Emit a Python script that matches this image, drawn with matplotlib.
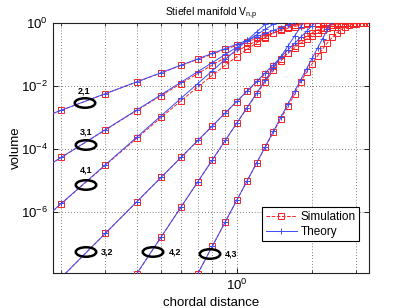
import matplotlib
matplotlib.use('Agg')
import matplotlib.pyplot as plt
from matplotlib.patches import Ellipse
from matplotlib.ticker import FixedLocator, NullLocator, NullFormatter

plt.rcParams['font.family'] = ['Liberation Sans', 'DejaVu Sans']
plt.rcParams['mathtext.fontset'] = 'custom'
plt.rcParams['mathtext.rm'] = 'Liberation Sans'
plt.rcParams['mathtext.it'] = 'Liberation Sans:italic'
plt.rcParams['mathtext.bf'] = 'Liberation Sans:bold'

# chordal distance grid (0.1 .. 3.4)
dist = [0.1, 0.2, 0.3, 0.4, 0.5, 0.6, 0.7, 0.8, 0.9, 1.0,
        1.1, 1.2, 1.3, 1.4, 1.5, 1.6, 1.7, 1.8, 1.9, 2.0,
        2.1, 2.2, 2.3, 2.4, 2.5, 2.6, 2.7, 2.8, 2.9, 3.0,
        3.1, 3.2, 3.3, 3.4]

labels = ["2,1", "3,1", "4,1", "3,2", "4,2", "4,3"]
start_idx = [0, 0, 0, 1, 3, 6]   # index into dist of the first point of each curve

sim_21 = [2.12e-4, 1.692e-3, 5.69e-3, 1.342e-2, 2.604e-2, 4.498e-2, 7.00e-2, 0.1033, 0.1449, 0.1955,
          0.2552, 0.3241, 0.4017, 0.4873, 0.5794, 0.6759, 0.7736, 0.8678, 0.950, 1.0,
          1.0, 1.0, 1.0, 1.0, 1.0, 1.0, 1.0, 1.0, 1.0, 1.0, 1.0, 1.0, 1.0, 1.0]
th_21 = [2.12e-4, 1.70e-3, 5.73e-3, 1.358e-2, 2.653e-2, 4.584e-2, 7.278e-2, 0.1086, 0.1547, 0.2122,
         0.2824, 0.3667, 0.4662, 0.5823, 0.7162, 0.8692, 1.0426, 1.2375]

sim_31 = [1.693e-6, 5.376e-5, 4.03e-4, 1.664e-3, 4.969e-3, 1.195e-2, 2.488e-2, 4.639e-2, 7.937e-2, 0.1266,
          0.1902, 0.2715, 0.370, 0.4830, 0.6053, 0.7285, 0.8414, 0.9312, 0.9856, 1.0,
          1.0, 1.0, 1.0, 1.0, 1.0, 1.0, 1.0, 1.0, 1.0, 1.0, 1.0, 1.0, 1.0, 1.0]
th_31 = [1.698e-6, 5.434e-5, 4.126e-4, 1.739e-3, 5.306e-3, 1.320e-2, 2.854e-2, 5.564e-2, 0.1003, 0.1698,
         0.2735, 0.4225, 0.6304, 0.9132, 1.289]

sim_41 = [1.448e-8, 1.827e-6, 3.05e-5, 2.203e-4, 1.004e-3, 3.399e-3, 9.339e-3, 2.193e-2, 4.550e-2, 8.524e-2,
          0.1464, 0.2328, 0.3452, 0.4796, 0.6257, 0.7672, 0.8850, 0.9626, 0.9956, 1.0,
          1.0, 1.0, 1.0, 1.0, 1.0, 1.0, 1.0, 1.0, 1.0, 1.0, 1.0, 1.0, 1.0, 1.0]
th_41 = [1.455e-8, 1.862e-6, 3.182e-5, 2.384e-4, 1.137e-3, 4.073e-3, 1.198e-2, 3.051e-2, 6.959e-2, 0.1455,
         0.2835, 0.5214, 0.913, 1.534]

sim_32 = [8.2e-9, 2.10e-7, 2.10e-6, 1.26e-5, 5.40e-5, 1.85e-4, 5.38e-4, 1.38e-3, 3.19e-3,
          6.76e-3, 1.32e-2, 2.45e-2, 4.27e-2, 7.08e-2, 0.1096, 0.162, 0.229, 0.309, 0.398,
          0.49, 0.58, 0.67, 0.76, 0.84, 0.91, 0.96, 0.995, 1.0, 1.0, 1.0, 1.0, 1.0, 1.0]
th_32 = [8.28e-9, 2.12e-7, 2.12e-6, 1.265e-5, 5.43e-5, 1.866e-4, 5.43e-4, 1.393e-3, 3.236e-3,
         6.93e-3, 1.390e-2, 2.64e-2, 4.78e-2, 8.30e-2, 0.139, 0.226, 0.356, 0.550, 0.828, 1.224]

sim_42 = [1.10e-8, 1.60e-7, 1.42e-6, 9.0e-6, 4.48e-5, 1.84e-4, 6.5e-4,
          2.0e-3, 5.5e-3, 1.38e-2, 3.16e-2, 6.3e-2, 0.115, 0.19, 0.28, 0.38, 0.49,
          0.60, 0.70, 0.79, 0.87, 0.93, 0.97, 0.99, 1.0, 1.0, 1.0, 1.0, 1.0, 1.0, 1.0]
th_42 = [1.109e-8, 1.614e-7, 1.439e-6, 9.14e-6, 4.54e-5, 1.866e-4, 6.61e-4,
         2.075e-3, 5.89e-3, 1.538e-2, 3.75e-2, 8.57e-2, 0.186, 0.385, 0.764, 1.462]

sim_43 = [1.10e-8, 8.2e-8, 4.8e-7, 2.33e-6,
          9.6e-6, 3.5e-5, 1.15e-4, 3.4e-4, 9.1e-4, 2.3e-3, 5.4e-3, 1.38e-2, 2.75e-2, 5.13e-2,
          9.12e-2, 0.151, 0.234, 0.347, 0.479, 0.617, 0.741, 0.841, 0.912, 0.955,
          0.982, 0.993, 1.0, 1.0]
th_43 = [1.112e-8, 8.24e-8, 4.83e-7, 2.344e-6,
         9.79e-6, 3.61e-5, 1.199e-4, 3.65e-4, 1.026e-3, 2.70e-3, 6.71e-3, 1.581e-2, 3.56e-2, 7.67e-2,
         0.160, 0.321, 0.625, 1.183]

sims = [sim_21, sim_31, sim_41, sim_32, sim_42, sim_43]
ths = [th_21, th_31, th_41, th_32, th_42, th_43]

RED = '#ff2020'
BLUE = '#3a4cff'

fig = plt.figure(figsize=(4.07, 3.08), dpi=100)
ax = fig.add_axes([53/407, 1-273/308, 316/407, 250/308])

for k, s in enumerate(sims):
    i0 = start_idx[k]
    ax.plot(dist[i0:i0+len(s)], s, color=RED, ls='--', lw=0.7, marker='s', ms=4.5,
            mfc='none', mec=RED, mew=0.7, label='Simulation' if k == 0 else None, zorder=3)
for k, t in enumerate(ths):
    i0 = start_idx[k]
    ax.plot(dist[i0:i0+len(t)], t, color=BLUE, ls='-', lw=0.7, marker='+', ms=5,
            mew=0.7, label='Theory' if k == 0 else None, zorder=4)

ax.set_xscale('log')
ax.set_yscale('log')
ax.set_xlim(0.1854, 3.366)
ax.set_ylim(10**-7.937, 1.0)

ax.xaxis.set_major_locator(FixedLocator([1.0]))
ax.xaxis.set_minor_locator(FixedLocator([0.2, 0.3, 0.4, 0.5, 0.6, 0.7, 0.8, 0.9, 2, 3]))
ax.xaxis.set_minor_formatter(NullFormatter())
ax.yaxis.set_major_locator(FixedLocator([1e-6, 1e-4, 1e-2, 1e0]))
ax.yaxis.set_minor_locator(NullLocator())

ax.tick_params(which='both', direction='in', top=True, right=True, labelsize=9.5)
ax.tick_params(which='major', length=3.5, width=0.6)
ax.tick_params(which='minor', length=2, width=0.5)

ax.grid(True, which='major', axis='both', ls=(0, (1, 2.5)), color='#555555', lw=0.6)
ax.grid(True, which='minor', axis='x', ls=(0, (1, 2.5)), color='#555555', lw=0.6)

for sp in ax.spines.values():
    sp.set_linewidth(0.8)
    sp.set_color('#222222')

ax.set_title('Stiefel manifold V$_{\\mathrm{n{,}p}}$', fontsize=7.5, pad=5)
ax.set_xlabel('chordal distance', fontsize=9.5, labelpad=3)
ax.set_ylabel('volume', fontsize=9.5)
ax.yaxis.set_label_coords(-0.097, 0.5)

leg = ax.legend(loc='upper left', bbox_to_anchor=(0.662, 0.263), borderaxespad=0,
                fancybox=False, edgecolor='black', framealpha=1, fontsize=8.5,
                handlelength=2.65, handletextpad=0.3, borderpad=0.3, labelspacing=0.25)
leg.get_frame().set_linewidth(0.8)

def px(xp, yp):
    return ((xp - 53) / 316, (273 - yp) / 250)

ellipses = [(85, 103), (86, 145), (86, 185), (86, 252), (153, 252), (210, 254)]
text_pos = [(84, 91), (86, 132), (86, 170), (107, 252), (175, 252), (231, 254)]
for (ex, ey), (tx, ty), lab in zip(ellipses, text_pos, labels):
    cx, cy = px(ex, ey)
    ax.add_patch(Ellipse((cx, cy), 20.5/316, 9.5/250, transform=ax.transAxes,
                         fill=False, edgecolor='black', lw=1.8, zorder=6))
    ttx, tty = px(tx, ty)
    ax.text(ttx, tty, lab, transform=ax.transAxes, fontsize=6.5, fontweight='bold',
            ha='center', va='center', zorder=6)

fig.savefig('out.png', dpi=100)
